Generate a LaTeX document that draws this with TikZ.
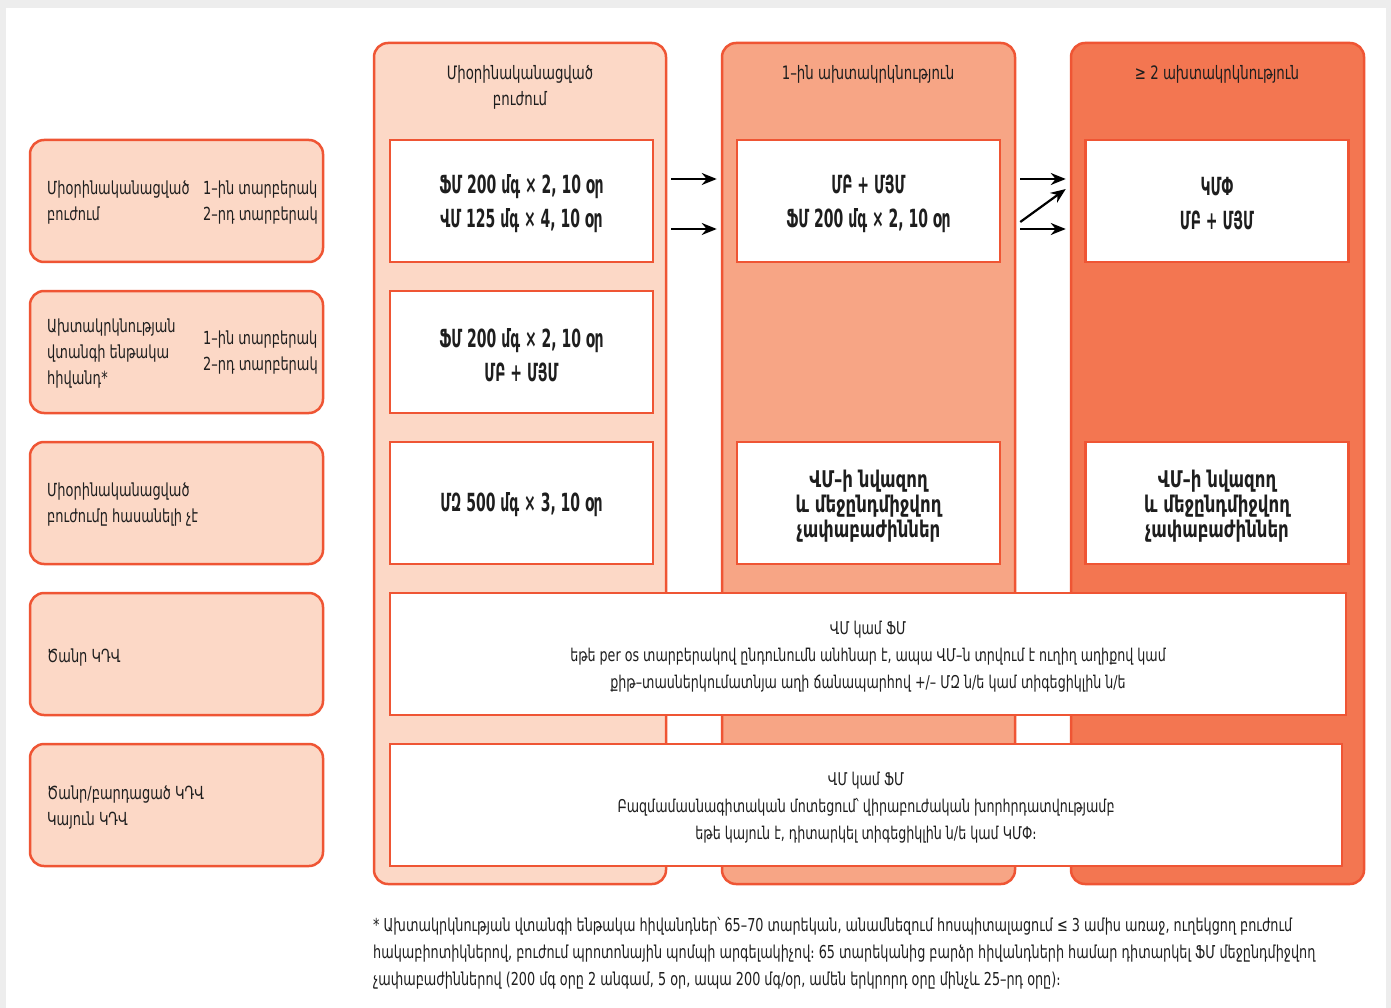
\documentclass[tikz,border=0pt]{standalone}
\usepackage{fontspec}
\usetikzlibrary{arrows.meta,calc}
\newfontfamily\armf[FakeStretch=0.72]{DejaVu Sans}
\newfontfamily\armn[FakeStretch=0.56]{DejaVu Sans}

\definecolor{edge}{HTML}{EF5534}
\definecolor{peach}{HTML}{FCD8C6}
\definecolor{salmon}{HTML}{F7A585}
\definecolor{coral}{HTML}{F37651}
\definecolor{ink}{HTML}{1E1E1E}
\definecolor{frame}{HTML}{EDEDED}

\tikzset{
  column/.style={draw=edge, line width=2.5pt, rounded corners=14pt, inner sep=0pt},
  sidebox/.style={draw=edge, fill=peach, line width=2.5pt, rounded corners=14pt,
    inner sep=0pt, minimum width=293pt, minimum height=122pt},
  cell/.style={draw=edge, fill=white, line width=2.5pt, inner sep=0pt,
    minimum width=263pt, minimum height=122pt},
  celltext/.style={align=center, text=ink, inner sep=0pt,
    font=\armn\bfseries\fontsize{25}{34}\selectfont},
  dosetext/.style={align=center, text=ink, inner sep=0pt,
    font=\armf\bfseries\fontsize{23}{25}\selectfont},
  widecell/.style={draw=edge, fill=white, line width=2.5pt, inner sep=0pt,
    minimum height=122pt},
  widetext/.style={align=center, text=ink, inner sep=0pt,
    font=\armf\fontsize{17.6}{27}\selectfont},
  head/.style={align=center, text=ink, font=\armf\fontsize{18.5}{26}\selectfont},
  sidetext/.style={anchor=west, align=left, text=ink, inner sep=0pt,
    font=\armf\fontsize{18}{26}\selectfont},
  note/.style={anchor=north west, align=left, text=ink, inner sep=0pt,
    font=\armf\fontsize{17.8}{27}\selectfont},
  arr/.style={draw=black, line width=2.2pt, -{Stealth[length=15pt,width=12pt]}}
}

\begin{document}
\begin{tikzpicture}[x=1pt,y=-1pt]
  \useasboundingbox (0,0) rectangle (1391,1008);
  % page frame
  \fill[frame] (0,0) rectangle (1391,1008);
  \fill[white] (6,8) rectangle (1386,1008);

  % three treatment columns
  \node[column, fill=peach,  minimum width=292pt, minimum height=841pt] (c1) at (520,463.5) {};
  \node[column, fill=salmon, minimum width=293pt, minimum height=841pt] (c2) at (868.5,463.5) {};
  \node[column, fill=coral,  minimum width=293pt, minimum height=841pt] (c3) at (1217.5,463.5) {};

  \node[head] (h1) at (520,87) {Միօրինականացված\\բուժում};
  \node[head] (h2) at (868,74) {1–ին ախտակրկնություն};
  \node[head] (h3) at (1217,74) {≥ 2 ախտակրկնություն};

  % patient categories
  \node[sidebox] (s1) at (176.5,201) {};
  \node[sidebox] (s2) at (176.5,352) {};
  \node[sidebox] (s3) at (176.5,503) {};
  \node[sidebox] (s4) at (176.5,654) {};
  \node[sidebox] (s5) at (176.5,805) {};

  \node[sidetext] (s1a) at (47,203) {Միօրինականացված\\բուժում};
  \node[sidetext] (s1b) at (203,203) {1–ին տարբերակ\\2–րդ տարբերակ};
  \node[sidetext] (s2a) at (47,354) {Ախտակրկնության\\վտանգի ենթակա\\հիվանդ*};
  \node[sidetext] (s2b) at (203,353) {1–ին տարբերակ\\2–րդ տարբերակ};
  \node[sidetext] (s3a) at (47,505) {Միօրինականացված\\բուժումը հասանելի չէ};
  \node[sidetext] (s4a) at (47,658) {Ծանր ԿԴՎ};
  \node[sidetext] (s5a) at (47,808) {Ծանր/բարդացած ԿԴՎ\\Կայուն ԿԴՎ};

  % treatment cells
  \node[cell] (b11) at (521.5,201) {};
  \node[cell] (b12) at (521.5,352) {};
  \node[cell] (b13) at (521.5,503) {};
  \node[cell] (b21) at (868.5,201) {};
  \node[cell] (b23) at (868.5,503) {};
  \node[cell] (b31) at (1217,201) {};
  \node[cell] (b33) at (1217,503) {};

  \node[celltext] (t11) at ($(b11)+(0,3)$) {ՖՄ 200 մգ × 2, 10 օր\\ՎՄ 125 մգ × 4, 10 օր};
  \node[celltext] (t12) at ($(b12)+(0,3)$) {ՖՄ 200 մգ × 2, 10 օր\\ՄԲ + ՄՅՄ};
  \node[celltext] (t13) at ($(b13)+(0,2)$) {ՄԶ 500 մգ × 3, 10 օր};
  \node[celltext] (t21) at ($(b21)+(0,3)$) {ՄԲ + ՄՅՄ\\ՖՄ 200 մգ × 2, 10 օր};
  \node[dosetext] (t23) at ($(b23)+(0,3)$) {ՎՄ–ի նվազող\\և մեջընդմիջվող\\չափաբաժիններ};
  \node[celltext] (t31) at ($(b31)+(0,3)$) {ԿՄՓ\\ՄԲ + ՄՅՄ};
  \node[dosetext] (t33) at ($(b33)+(0,3)$) {ՎՄ–ի նվազող\\և մեջընդմիջվող\\չափաբաժիններ};

  \node[widecell, minimum width=956pt] (w1) at (868,654) {};
  \node[widecell, minimum width=952pt] (w2) at (866,805) {};
  \node[widetext] (w1t) at ($(w1)+(0,3)$)
    {ՎՄ կամ ՖՄ\\եթե per os տարբերակով ընդունումն անհնար է, ապա ՎՄ–ն տրվում է ուղիղ աղիքով կամ\\քիթ–տասներկումատնյա աղի ճանապարհով +/– ՄԶ ն/ե կամ տիգեցիկլին ն/ե};
  \node[widetext] (w2t) at ($(w2)+(0,3)$)
    {ՎՄ կամ ՖՄ\\Բազմամասնագիտական մոտեցում՝ վիրաբուժական խորհրդատվությամբ\\եթե կայուն է, դիտարկել տիգեցիկլին ն/ե կամ ԿՄՓ։};

  % progression arrows
  \draw[arr] ($(c1.east |- 0,179)+(4,0)$) -- ($(c2.west |- 0,179)+(-4,0)$);
  \draw[arr] ($(c1.east |- 0,229)+(4,0)$) -- ($(c2.west |- 0,229)+(-4,0)$);
  \draw[arr] ($(c2.east |- 0,179)+(4,0)$) -- ($(c3.west |- 0,179)+(-4,0)$);
  \draw[arr] ($(c2.east |- 0,229)+(4,0)$) -- ($(c3.west |- 0,229)+(-4,0)$);
  \draw[arr] ($(c2.east |- 0,222)+(4,0)$) -- ($(c3.west |- 0,189)+(-4,0)$);

  % footnote
  \node[note] (fn) at (373,917)
    {* Ախտակրկնության վտանգի ենթակա հիվանդներ՝ 65–70 տարեկան, անամնեզում հոսպիտալացում ≤ 3 ամիս առաջ, ուղեկցող բուժում\\հակաբիոտիկներով, բուժում պրոտոնային պոմպի արգելակիչով։ 65 տարեկանից բարձր հիվանդների համար դիտարկել ՖՄ մեջընդմիջվող\\չափաբաժիններով (200 մգ օրը 2 անգամ, 5 օր, ապա 200 մգ/օր, ամեն երկրորդ օրը մինչև 25–րդ օրը)։};
\end{tikzpicture}
\end{document}
